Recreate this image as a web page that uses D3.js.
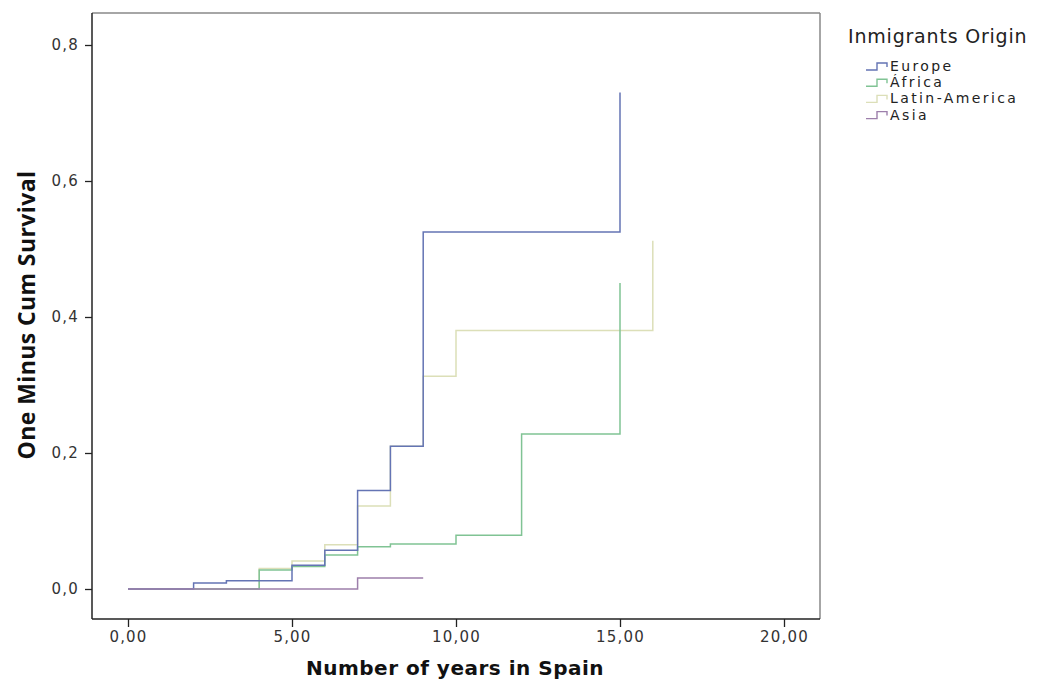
<!doctype html>
<html>
<head>
<meta charset="utf-8">
<script src="https://d3js.org/d3.v7.min.js"></script>
<style>
  body { margin: 0; background: #fff; }
  .tick text { font-family: "DejaVu Sans", sans-serif; font-size: 15px; fill: #333; letter-spacing: 1.2px; }
  .tick line { stroke: #222; stroke-width: 1.3; }
</style>
</head>
<body>
<svg width="1050" height="686"></svg>
<script>
// series (time in years, one minus cum survival)
var seriesNames = ["Europe", "África", "Latin-America", "Asia"];
var seriesColors = ["#6474b4", "#80c394", "#dcdfb8", "#9d7fab"];

var europeT = [0, 2, 3, 5, 6, 7, 8, 9, 15];
var europeV = [0, 0.009, 0.012, 0.035, 0.057, 0.145, 0.21, 0.525, 0.73];

var africaT = [0, 4, 5, 6, 7, 8, 10, 12, 15];
var africaV = [0, 0.028, 0.033, 0.05, 0.062, 0.066, 0.079, 0.228, 0.45];

var latinT = [0, 4, 5, 6, 7, 8, 9, 10, 16];
var latinV = [0, 0.03, 0.041, 0.065, 0.122, 0.21, 0.313, 0.38, 0.512];

var asiaT = [0, 7, 9];
var asiaV = [0, 0.016, 0.016];

var xTicks = [0, 5, 10, 15, 20];
var yTicks = [0, 0.2, 0.4, 0.6, 0.8];

var allT = [europeT, africaT, latinT, asiaT];
var allV = [europeV, africaV, latinV, asiaV];

var svg = d3.select("svg");

var x = d3.scaleLinear().domain([0, 20]).range([128, 784]),
    y = d3.scaleLinear().domain([0, 0.8]).range([589, 45]);

var frame = { left: 92, right: 820, top: 13, bottom: 619 };

var locale = d3.formatLocale({ decimal: ",", thousands: ".", grouping: [3], currency: ["", ""] });

// frame
svg.append("line").attr("x1", frame.left).attr("x2", frame.right)
   .attr("y1", frame.top).attr("y2", frame.top)
   .attr("stroke", "#888").attr("stroke-width", 1.5);
svg.append("line").attr("x1", frame.right).attr("x2", frame.right)
   .attr("y1", frame.top).attr("y2", frame.bottom)
   .attr("stroke", "#888").attr("stroke-width", 1.5);
svg.append("line").attr("x1", frame.left).attr("x2", frame.left)
   .attr("y1", frame.top).attr("y2", frame.bottom)
   .attr("stroke", "#222").attr("stroke-width", 1.5);
svg.append("line").attr("x1", frame.left).attr("x2", frame.right)
   .attr("y1", frame.bottom).attr("y2", frame.bottom)
   .attr("stroke", "#222").attr("stroke-width", 1.5);

// axes
var gx = svg.append("g")
   .attr("transform", "translate(0," + frame.bottom + ")")
   .call(d3.axisBottom(x).tickValues(xTicks).tickSize(8).tickPadding(4)
        .tickFormat(locale.format(".2f")));
gx.select(".domain").remove();

var gy = svg.append("g")
   .attr("transform", "translate(" + frame.left + ",0)")
   .call(d3.axisLeft(y).tickValues(yTicks).tickSize(7).tickPadding(6)
        .tickFormat(locale.format(".1f")));
gy.select(".domain").remove();

// axis titles
svg.append("text")
   .attr("x", 455).attr("y", 675)
   .attr("text-anchor", "middle")
   .attr("font-family", "DejaVu Sans, sans-serif")
   .attr("font-weight", "bold")
   .attr("font-size", "20px")
   .attr("letter-spacing", "0.5px")
   .attr("fill", "#111")
   .text("Number of years in Spain");

svg.append("text")
   .attr("transform", "translate(35,315) rotate(-90)")
   .attr("text-anchor", "middle")
   .attr("font-family", "Open Sans, sans-serif")
   .attr("font-weight", "bold")
   .attr("font-size", "23px")
   .attr("letter-spacing", "0.4px")
   .attr("fill", "#111")
   .text("One Minus Cum Survival");

// step lines
var line = d3.line()
   .x(function(d) { return x(d[0]); })
   .y(function(d) { return y(d[1]); })
   .curve(d3.curveStepAfter);

var drawOrder = [2, 1, 0, 3];
drawOrder.forEach(function(i) {
    var pts = allT[i].map(function(t, j) { return [t, allV[i][j]]; });
    svg.append("path")
       .attr("d", line(pts))
       .attr("fill", "none")
       .attr("stroke", seriesColors[i])
       .attr("stroke-width", 1.5);
});

// legend
svg.append("text")
   .attr("x", 848).attr("y", 43)
   .attr("font-family", "DejaVu Sans, sans-serif")
   .attr("font-size", "19px")
   .attr("letter-spacing", "0.8px")
   .attr("fill", "#222")
   .text("Inmigrants Origin");

var leg = svg.selectAll(".leg")
   .data(seriesNames)
   .enter().append("g")
   .attr("class", "leg")
   .attr("transform", function(d, i) { return "translate(866," + (66 + i * 16.2) + ")"; });

leg.append("path")
   .attr("d", "M0,4 H11 V-3 H21 V1")
   .attr("fill", "none")
   .attr("stroke", function(d, i) { return seriesColors[i]; })
   .attr("stroke-width", 1.4);

leg.append("text")
   .attr("x", 24).attr("y", 5)
   .attr("font-family", "DejaVu Sans, sans-serif")
   .attr("font-size", "14px")
   .attr("letter-spacing", "2.4px")
   .attr("fill", "#222")
   .text(function(d) { return d; });
</script>
</body>
</html>
